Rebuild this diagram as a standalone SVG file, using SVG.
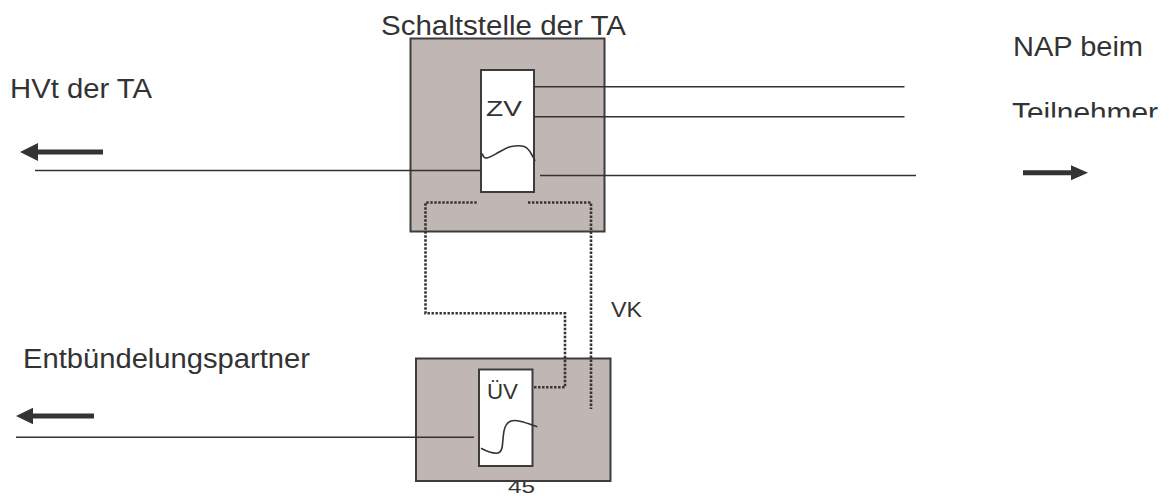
<svg xmlns="http://www.w3.org/2000/svg" width="1170" height="497" viewBox="0 0 1170 497">
<style>
text{font-family:"Liberation Sans",Arial,sans-serif;fill:#333}
.big{font-size:27px}
.small{font-size:22px}
.num{font-size:18px}
.box{fill:#c0b6b3;stroke:#3c3c3c;stroke-width:2}
.inner{fill:#fff;stroke:#3c3c3c;stroke-width:2}
.wire{fill:none;stroke:#333;stroke-width:1.6}
.dot{fill:none;stroke:#333;stroke-width:2.6;stroke-dasharray:2.4 1.6}
.arrow{fill:#333}
</style>
<defs>
<clipPath id="clipT"><rect x="0" y="0" width="1170" height="117.5"/></clipPath>
</defs>
<g id="labels">
<text class="big" x="381" y="35" textLength="245" lengthAdjust="spacingAndGlyphs">Schaltstelle der TA</text>
<text class="big" x="10" y="98" textLength="142" lengthAdjust="spacingAndGlyphs">HVt der TA</text>
<text class="big" x="1013" y="56" textLength="130" lengthAdjust="spacingAndGlyphs">NAP beim</text>
<text class="big" x="1012" y="121.5" textLength="146" lengthAdjust="spacingAndGlyphs" clip-path="url(#clipT)">Teilnehmer</text>
<text class="big" x="23" y="368" textLength="287" lengthAdjust="spacingAndGlyphs">Entbündelungspartner</text>
<text class="small" x="611" y="317" textLength="31" lengthAdjust="spacingAndGlyphs">VK</text>
<text class="num" x="508" y="493" textLength="27" lengthAdjust="spacingAndGlyphs">45</text>
</g>
<g id="schaltstelle">
<rect class="box" x="410.5" y="38.5" width="194" height="193"/>
</g>
<g id="zv">
<rect class="inner" x="481" y="70" width="53" height="122"/>
<text class="small" x="486" y="115.7" textLength="36" lengthAdjust="spacingAndGlyphs">ZV</text>
<path class="wire" d="M482.3,153.3 C483,157 485,158.3 487,158 C491,157 494,155 497,153.3 C502,150.5 506,148 510,146.7 C514,146 518,145.5 521.7,146 C526,146.5 528,148.5 530,151.7 C532,155 534,158 535,161"/>
</g>
<g id="entbuendelung">
<rect class="box" x="416" y="358.5" width="194.5" height="122.5"/>
</g>
<g id="uev">
<rect class="inner" x="479" y="369.5" width="53.5" height="96.5"/>
<text class="small" x="487" y="399.3" textLength="31" lengthAdjust="spacingAndGlyphs">ÜV</text>
<path class="wire" d="M481,448.3 C486,451 491,453.5 496.7,453.3 C500,453 501.5,451 502.2,447 C503,441 503,436 504,431 C505,426 507,422.5 511,421 C514,420 517,420.5 521,421.5 C527,423 532,425 537.3,426.7"/>
</g>
<g id="connectors">
<line class="wire" x1="534" y1="86.7" x2="904.5" y2="86.7"/>
<line class="wire" x1="534" y1="116.7" x2="904.5" y2="116.7"/>
<line class="wire" x1="540" y1="175.5" x2="916" y2="175.5"/>
<line class="wire" x1="35" y1="170.5" x2="481" y2="170.5"/>
<line class="wire" x1="16" y1="437.3" x2="474" y2="437.3"/>
<polyline class="dot" points="476.7,202.5 425.5,202.5 425.5,313.3 565,313.3 565,387.3 533,387.3"/>
<polyline class="dot" points="528,202.5 591,202.5 591,409"/>
<path class="arrow" d="M20,152 L38,143 L38,149.4 L103,149.4 L103,154.6 L38,154.6 L38,161 Z"/>
<path class="arrow" d="M16,416 L33,407.7 L33,413.4 L94,413.4 L94,418.6 L33,418.6 L33,424.3 Z"/>
<path class="arrow" d="M1088,172.7 L1071,165.2 L1071,170.2 L1023,170.2 L1023,175.2 L1071,175.2 L1071,180.2 Z"/>
</g>
</svg>
